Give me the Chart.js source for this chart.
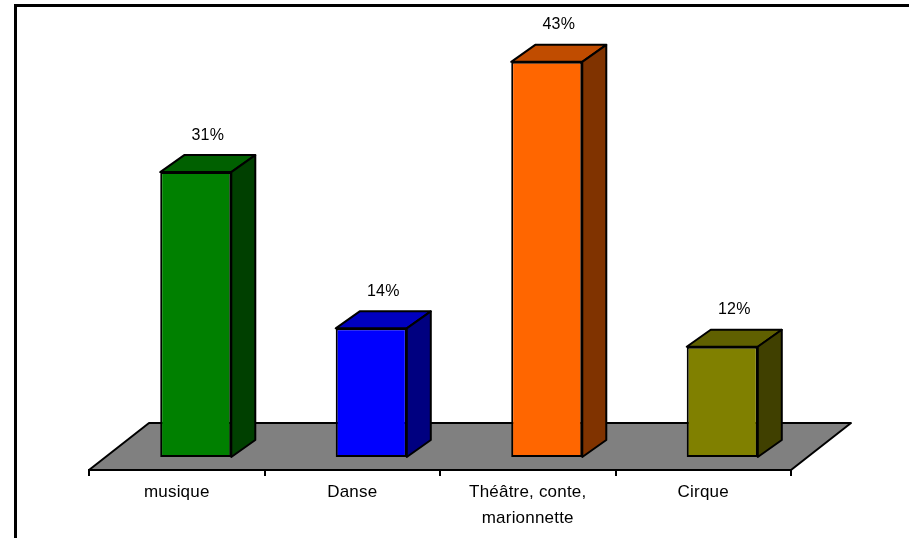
<!DOCTYPE html>
<html>
<head>
<meta charset="utf-8">
<script src="https://cdn.jsdelivr.net/npm/chart.js@4"></script>
<style>
  body { margin: 0; background: #fff; }
</style>
</head>
<body>
<canvas id="chart" width="909" height="538"></canvas>
<script>
// data
const categories = ['musique', 'Danse', ['Théâtre, conte,', 'marionnette'], 'Cirque'];
const percents = [31, 14, 43, 12];

// colours: front / top / side of each bar
const frontColors = ['#008000', '#0000ff', '#ff6600', '#808000'];
const topColors = ['#006000', '#0000c0', '#c04c00', '#606000'];
const sideColors = ['#004000', '#000080', '#803300', '#404000'];

const FONT = '"Liberation Sans", Arial, sans-serif';
const shiftX = 19;            // bars sit mid-depth on the floor
const barDepth = {dx: 24, dy: -17};
const floorDepth = {dx: 60, dy: -47};

const threeD = {
  id: 'threeD',
  beforeDraw(chart) {
    const ctx = chart.ctx;
    ctx.letterSpacing = '0.2px';
    // outer frame
    ctx.save();
    ctx.strokeStyle = '#000';
    ctx.lineWidth = 3;
    ctx.strokeRect(15.5, 5.5, 1000, 1000);
    ctx.restore();
  },
  beforeDatasetsDraw(chart) {
    const ctx = chart.ctx;
    const a = chart.chartArea;
    const y0 = a.bottom;
    ctx.save();
    ctx.beginPath();
    ctx.moveTo(a.left, y0);
    ctx.lineTo(a.right, y0);
    ctx.lineTo(a.right + floorDepth.dx, y0 + floorDepth.dy);
    ctx.lineTo(a.left + floorDepth.dx, y0 + floorDepth.dy);
    ctx.closePath();
    ctx.fillStyle = '#808080';
    ctx.fill();
    ctx.strokeStyle = '#000';
    ctx.lineWidth = 2;
    ctx.lineJoin = 'round';
    ctx.stroke();
    ctx.restore();
  },
  beforeDatasetDraw(chart) {
    chart.ctx.save();
    chart.ctx.translate(shiftX, 0);
  },
  afterDatasetDraw(chart) {
    chart.ctx.restore();
  },
  afterDatasetsDraw(chart) {
    const ctx = chart.ctx;
    const meta = chart.getDatasetMeta(0);
    ctx.save();
    ctx.strokeStyle = '#000';
    ctx.lineWidth = 2;
    ctx.lineJoin = 'round';
    meta.data.forEach((bar, i) => {
      const p = bar.getProps(['x', 'y', 'base', 'width'], true);
      const L = p.x - p.width / 2 + shiftX;
      const R = p.x + p.width / 2 + shiftX;
      const T = p.y;
      const B = p.base;
      const dx = barDepth.dx, dy = barDepth.dy;
      // top face
      ctx.beginPath();
      ctx.moveTo(L, T);
      ctx.lineTo(R, T);
      ctx.lineTo(R + dx, T + dy);
      ctx.lineTo(L + dx, T + dy);
      ctx.closePath();
      ctx.fillStyle = topColors[i];
      ctx.fill();
      ctx.stroke();
      // side face
      ctx.beginPath();
      ctx.moveTo(R, T);
      ctx.lineTo(R + dx, T + dy);
      ctx.lineTo(R + dx, B + dy);
      ctx.lineTo(R, B);
      ctx.closePath();
      ctx.fillStyle = sideColors[i];
      ctx.fill();
      ctx.stroke();
      // value label
      ctx.fillStyle = '#000';
      ctx.font = '16px ' + FONT;
      ctx.textAlign = 'center';
      ctx.textBaseline = 'middle';
      ctx.fillText(percents[i] + '%', (L + R) / 2 + dx / 2, T + dy - 20);
    });
    ctx.restore();
  }
};

new Chart(document.getElementById('chart'), {
  type: 'bar',
  data: {
    labels: categories,
    datasets: [{
      data: percents,
      backgroundColor: frontColors,
      borderColor: '#000',
      borderWidth: 2,
      borderSkipped: false,
      barPercentage: 0.405,
      categoryPercentage: 1,
      clip: false
    }]
  },
  options: {
    responsive: false,
    animation: false,
    devicePixelRatio: 1,
    layout: { padding: { left: 89, right: 118, top: 30, bottom: 0 } },
    plugins: { legend: { display: false }, tooltip: { enabled: false } },
    scales: {
      x: {
        grid: {
          offset: true,
          drawOnChartArea: false,
          drawTicks: true,
          tickLength: 6,
          color: '#000',
          lineWidth: 2
        },
        border: { display: true, color: '#000', width: 2 },
        ticks: {
          color: '#000',
          padding: 4,
          maxRotation: 0,
          autoSkip: false,
          font: { family: FONT, size: 17, lineHeight: 1.5 }
        },
        afterFit(scale) { scale.height = 68; }
      },
      y: {
        display: false,
        min: -1.4146,
        max: 46.464
      }
    }
  },
  plugins: [threeD]
});
</script>
</body>
</html>
